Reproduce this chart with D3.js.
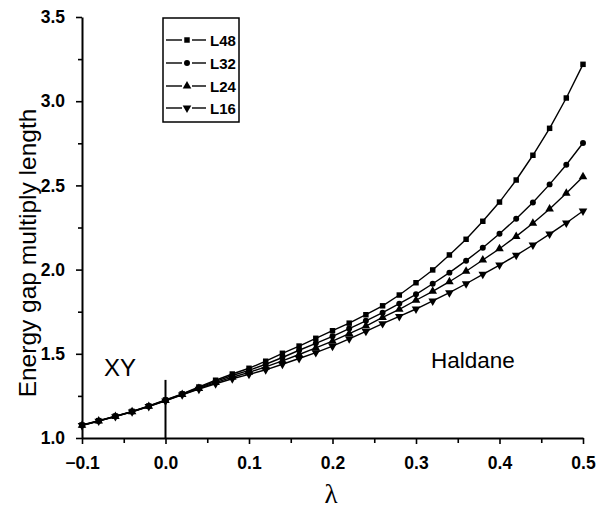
<!DOCTYPE html>
<html><head><meta charset="utf-8">
<script src="https://cdn.jsdelivr.net/npm/d3@7"></script>
<style>body{margin:0;background:#fff}svg{display:block}</style>
</head><body>
<svg id="c" width="596" height="522"></svg>
<script>
const lambda = [-0.10,-0.08,-0.06,-0.04,-0.02,0.00,0.02,0.04,0.06,0.08,0.10,0.12,0.14,0.16,0.18,0.20,0.22,0.24,0.26,0.28,0.30,0.32,0.34,0.36,0.38,0.40,0.42,0.44,0.46,0.48,0.50];
const L48 = [1.077,1.103,1.130,1.158,1.190,1.226,1.262,1.303,1.343,1.380,1.414,1.456,1.503,1.546,1.592,1.637,1.682,1.732,1.785,1.849,1.922,1.998,2.087,2.180,2.287,2.401,2.532,2.679,2.839,3.019,3.219];
const L32 = [1.076,1.102,1.129,1.157,1.189,1.224,1.260,1.299,1.336,1.371,1.402,1.438,1.478,1.521,1.562,1.604,1.650,1.696,1.744,1.798,1.853,1.916,1.982,2.053,2.130,2.213,2.302,2.399,2.506,2.623,2.752];
const L24 = [1.075,1.101,1.128,1.156,1.188,1.222,1.258,1.294,1.329,1.361,1.390,1.422,1.458,1.496,1.535,1.575,1.620,1.665,1.716,1.764,1.818,1.871,1.928,1.990,2.057,2.124,2.197,2.275,2.360,2.453,2.552];
const L16 = [1.074,1.100,1.127,1.155,1.187,1.220,1.256,1.290,1.322,1.352,1.378,1.405,1.438,1.472,1.507,1.545,1.589,1.633,1.679,1.722,1.766,1.814,1.863,1.916,1.972,2.027,2.085,2.146,2.211,2.277,2.348];
const seriesNames = ["L48","L32","L24","L16"];
const seriesValues = [L48, L32, L24, L16];
const xTicks = [-0.1,0.0,0.1,0.2,0.3,0.4,0.5];
const yTicks = [1.0,1.5,2.0,2.5,3.0,3.5];

const svg = d3.select("#c");
const x = d3.scaleLinear().domain([-0.1,0.5]).range([82,583]);
const y = d3.scaleLinear().domain([1.0,3.5]).range([438,17]);
const font = "Arial, 'Liberation Sans', sans-serif";
const symbols = [d3.symbolSquare, d3.symbolCircle, d3.symbolTriangle, d3.symbolTriangle];
const symSize = [30, 28, 32, 32];
const symRot = [0,0,0,180];

// lines
const line = d3.line().x(d=>x(d[0])).y(d=>y(d[1]));
seriesValues.forEach((vals,i)=>{
  const pts = lambda.map((l,j)=>[l, vals[j]]);
  svg.append("path").attr("d", line(pts)).attr("fill","none")
    .attr("stroke","#000").attr("stroke-width",1.4);
  svg.append("g").selectAll("path").data(pts).join("path")
    .attr("d", d3.symbol().type(symbols[i]).size(symSize[i]))
    .attr("transform", d=>`translate(${x(d[0])},${y(d[1])}) rotate(${symRot[i]})`)
    .attr("fill","#000");
});

// vertical line at lambda = 0
svg.append("line").attr("x1",x(0)).attr("x2",x(0)).attr("y1",y(1.0)).attr("y2",y(1.345))
  .attr("stroke","#000").attr("stroke-width",2);

// axes
svg.append("g").attr("transform",`translate(0,${y(1.0)})`)
  .call(d3.axisBottom(x).tickValues(xTicks).tickFormat(d3.format(".1f")).tickSize(6).tickPadding(13).tickSizeOuter(0));
svg.append("g").attr("transform",`translate(0,${y(1.0)})`)
  .call(d3.axisBottom(x).tickValues(d3.range(-0.05,0.5,0.1)).tickFormat("").tickSize(5).tickSizeOuter(0))
  .select(".domain").remove();
svg.append("g").attr("transform",`translate(${x(-0.1)},0)`)
  .call(d3.axisLeft(y).tickValues(yTicks).tickFormat(d3.format(".1f")).tickSize(6).tickPadding(11).tickSizeOuter(0));
svg.append("g").attr("transform",`translate(${x(-0.1)},0)`)
  .call(d3.axisLeft(y).tickValues([1.25,1.75,2.25,2.75,3.25]).tickFormat("").tickSize(4).tickSizeOuter(0))
  .select(".domain").remove();
svg.selectAll(".domain").attr("stroke","#000").attr("stroke-width",2);
svg.selectAll(".tick line").attr("stroke","#000").attr("stroke-width",1.6);
svg.selectAll(".tick text").attr("font-family",font).attr("font-size",17.5).attr("font-weight","bold").attr("fill","#000");

// axis titles
svg.append("text").attr("transform","translate(36,253) rotate(-90)").attr("text-anchor","middle")
  .attr("font-family",font).attr("font-size",24.5).attr("fill","#000").text("Energy gap multiply length");
svg.append("text").attr("x",331).attr("y",503).attr("text-anchor","middle")
  .attr("font-family","'Liberation Serif','Times New Roman',serif").attr("font-size",27).attr("fill","#000").text("λ");

// annotations
svg.append("text").attr("x",104).attr("y",376).attr("font-family",font).attr("font-size",24).attr("fill","#000").text("XY");
svg.append("text").attr("x",431).attr("y",368).attr("font-family",font).attr("font-size",22.5).attr("fill","#000").text("Haldane");

// legend
const lg = svg.append("g");
lg.append("rect").attr("x",163).attr("y",18).attr("width",76).attr("height",104)
  .attr("fill","#fff").attr("stroke","#000").attr("stroke-width",1.5);
const legY = [40, 63, 86, 108];
seriesNames.forEach((n,i)=>{
  const yy = legY[i];
  lg.append("line").attr("x1",166).attr("x2",182).attr("y1",yy).attr("y2",yy).attr("stroke","#000").attr("stroke-width",1.4);
  lg.append("line").attr("x1",192).attr("x2",206).attr("y1",yy).attr("y2",yy).attr("stroke","#000").attr("stroke-width",1.4);
  lg.append("path").attr("d", d3.symbol().type(symbols[i]).size(symSize[i])())
    .attr("transform",`translate(187,${yy}) rotate(${symRot[i]})`).attr("fill","#000");
  lg.append("text").attr("x",210).attr("y",yy+5.5).attr("font-family",font).attr("font-size",15)
    .attr("font-weight","bold").attr("fill","#000").text(n);
});
</script>
</body></html>
